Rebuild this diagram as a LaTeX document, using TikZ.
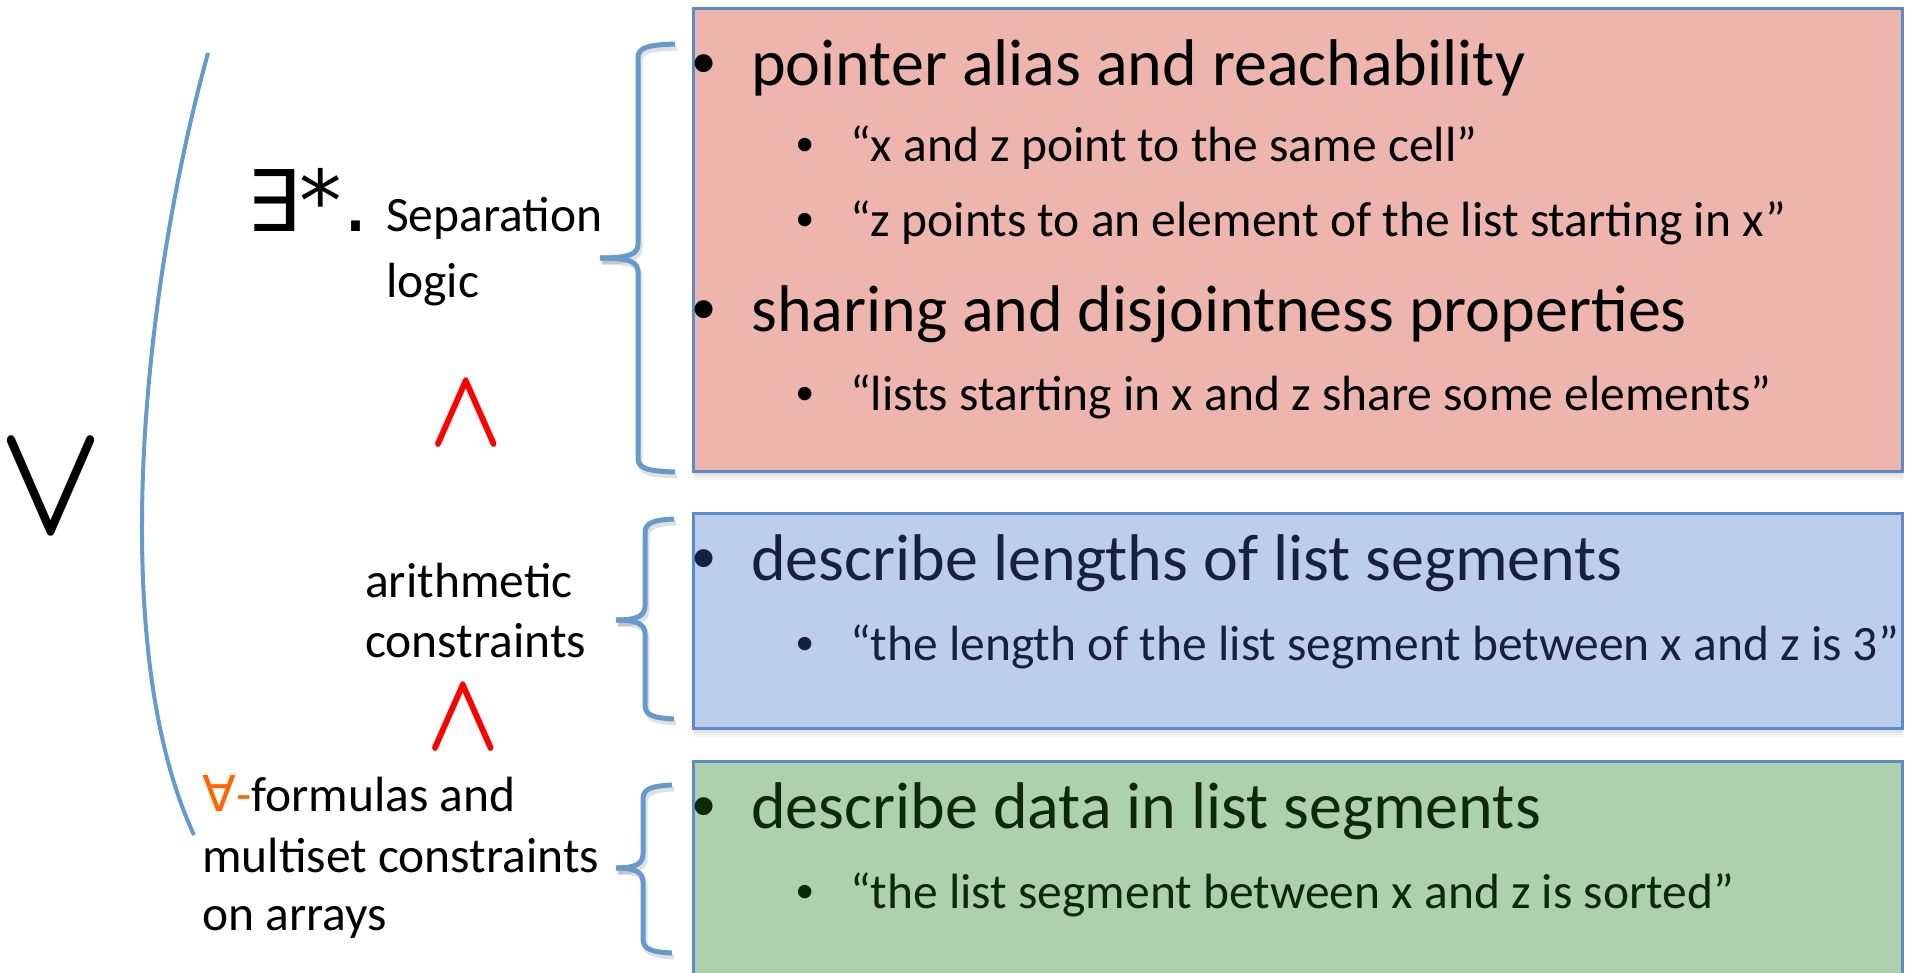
\documentclass[tikz,border=0pt]{standalone}
\usepackage{fontspec}
\setmainfont{Carlito}
\newfontfamily\symfont{DejaVu Sans}
\newfontfamily\bulfont{Liberation Sans}
\usetikzlibrary{calc}

\definecolor{redfill}{HTML}{EDB5AD}
\definecolor{bluefill}{HTML}{BDCDEC}
\definecolor{greenfill}{HTML}{AED0AC}
\definecolor{boxline}{HTML}{5A8CCA}
\definecolor{bracecol}{HTML}{6699CC}
\definecolor{navytext}{HTML}{17213F}
\definecolor{greentext}{HTML}{0C2A0B}
\definecolor{forallcol}{HTML}{FF6600}

% a left brace: #1 style, #2 spine x, #3 end x, #4 tip x, #5 top y, #6 tip y, #7 bottom y
\newcommand\drawbrace[7]{%
  \draw[#1] (#3,#5) .. controls ({#2+10},{#5+1}) and (#2,{#5+3}) .. (#2,{#5+14})
    -- (#2,{#6-14}) .. controls (#2,{#6-4}) and ({#2-8},#6) .. (#4,#6);
  \draw[#1] (#4,#6) .. controls ({#2-8},#6) and (#2,{#6+4}) .. (#2,{#6+14})
    -- (#2,{#7-14}) .. controls (#2,{#7-3}) and ({#2+10},{#7-1}) .. (#3,#7);
}

\begin{document}
\begin{tikzpicture}[x=1pt,y=-1pt,
  panel/.style={draw=boxline, line width=3pt, anchor=north west, inner sep=0pt,
                minimum width=1209pt},
  bracestyle/.style={draw=bracecol, line width=5pt},
  braceshade/.style={draw=black, opacity=0.12, line width=5pt},
  arcstyle/.style={draw=bracecol, line width=4pt},
  maintext/.style={anchor=base west, inner sep=0pt, font=\fontsize{66}{79}\selectfont},
  subtext/.style={anchor=base west, inner sep=0pt, font=\fontsize{49.5}{60}\selectfont},
  mainbul/.style={anchor=base west, inner sep=0pt, font=\bulfont\fontsize{66}{70}\selectfont},
  subbul/.style={anchor=base west, inner sep=0pt, font=\bulfont\fontsize{49.5}{60}\selectfont},
  leftlabel/.style={anchor=base west, inner sep=0pt, font=\fontsize{49.5}{60}\selectfont},
  conj/.style={inner sep=0pt, text=red},
]
\useasboundingbox (0,0) rectangle (1916,973);

% soft shadows under the three panels
\foreach \o in {2,4,6,8,10}{
  \fill[black,opacity=0.035] (694,7+\o) rectangle (1901+\o*0.3,470+\o);
  \fill[black,opacity=0.035] (694,512+\o) rectangle (1901+\o*0.3,727+\o);
  \fill[black,opacity=0.035] (1901,760+\o) rectangle (1901+\o*0.3,990);
}

% panels
\node[panel, fill=redfill,   minimum height=463pt] (redbox)   at (692,7)   {};
\node[panel, fill=bluefill,  minimum height=215pt] (bluebox)  at (692,512) {};
\node[panel, fill=greenfill, minimum height=240pt] (greenbox) at (692,760) {};

% red panel: pointer properties
\node[mainbul] (rb1) at (692,86) {•};
\node[maintext] (rt1) at (751,86) {pointer alias and reachability};
\node[subbul] (rs1) at (796,162) {•};
\node[subtext] (rst1) at (850,162) {“x and z point to the same cell”};
\node[subbul] (rs2) at (796,237) {•};
\node[subtext] (rst2) at (850,237) {“z points to an element of the list starting in x”};
\node[mainbul] (rb2) at (692,332) {•};
\node[maintext] (rt2) at (751,332) {sharing and disjointness properties};
\node[subbul] (rs3) at (796,410) {•};
\node[subtext] (rst3) at (850,410) {“lists starting in x and z share some elements”};

% blue panel: lengths
\node[mainbul, text=navytext] (bb1) at (692,580) {•};
\node[maintext, text=navytext] (bt1) at (751,580) {describe lengths of list segments};
\node[subbul, text=navytext] (bs1) at (796,660) {•};
\node[subtext, text=navytext] (bst1) at (850,660) {“the length of the list segment between x and z is 3”};

% green panel: data
\node[mainbul, text=greentext] (gb1) at (692,828) {•};
\node[maintext, text=greentext] (gt1) at (751,828) {describe data in list segments};
\node[subbul, text=greentext] (gs1) at (796,908) {•};
\node[subtext, text=greentext] (gst1) at (850,908) {“the list segment between x and z is sorted”};

% braces (shadow first, then the brace)
\begin{scope}[shift={(2,4)}]
  \drawbrace{braceshade}{638}{675}{600}{44}{258}{472}
  \drawbrace{braceshade}{645}{674}{616}{519}{620}{719}
  \drawbrace{braceshade}{643}{672}{616}{785}{868}{953}
\end{scope}
\drawbrace{bracestyle}{638}{675}{600}{44}{258}{472}
\drawbrace{bracestyle}{645}{674}{616}{519}{620}{719}
\drawbrace{bracestyle}{643}{672}{616}{785}{868}{953}

% left labels
\node[anchor=base west, inner sep=0pt, font=\symfont\fontsize{85}{90}\selectfont] (exists) at (246,232) {∃*.};
\node[leftlabel] (sep1) at (386,232) {Separation};
\node[leftlabel] (sep2) at (386,298) {logic};
\node[leftlabel] (arith1) at (365,597) {arithmetic};
\node[leftlabel] (arith2) at (365,657) {constraints};
\node[leftlabel] (forall1) at (202,811) {{\symfont\color{forallcol}∀}\textcolor{forallcol}{-}formulas and};
\node[leftlabel] (forall2) at (202,872) {multiset constraints};
\node[leftlabel] (forall3) at (202,930) {on arrays};

% conjunctions
\node[conj] (and1) at (466,414) {\scalebox{9.6}[11.2]{\boldmath$\wedge$}};
\node[conj] (and2) at (463,718) {\scalebox{9.6}[11.2]{\boldmath$\wedge$}};

% disjunction and its bracket
\node[inner sep=0pt] (or) at (51,488) {\scalebox{13.7}[16.2]{\boldmath$\vee$}};
\draw[arcstyle] (208,53) .. controls (140,300) and (108,650) .. (194,835);
\end{tikzpicture}
\end{document}
